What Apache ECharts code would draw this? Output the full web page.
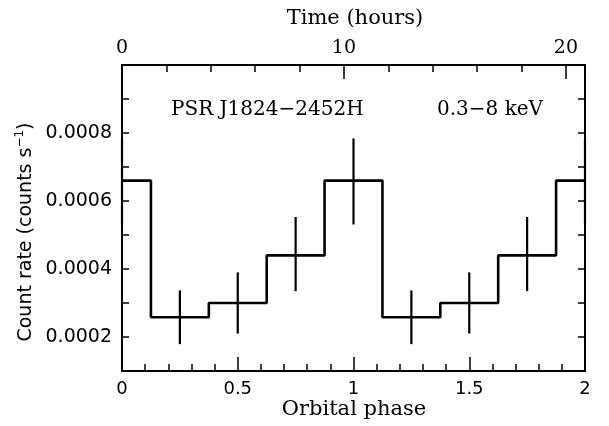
<!DOCTYPE html>
<html><head><meta charset="utf-8">
<script src="https://cdn.jsdelivr.net/npm/echarts@6/dist/echarts.min.js"></script>
<style>html,body{margin:0;padding:0;background:#fff}#c{width:609px;height:426px}</style>
</head><body><div id="c"></div>
<script>
const phases = [0, 0.25, 0.5, 0.75, 1, 1.25, 1.5, 1.75, 2];
const rates = [0.00066, 0.000258, 0.0003, 0.00044, 0.00066, 0.000258, 0.0003, 0.00044, 0.00066];
const errLow = [0.000531, 0.000179, 0.00021, 0.000335, 0.000531, 0.000179, 0.00021, 0.000335, 0.000531];
const errHigh = [0.000784, 0.000337, 0.00039, 0.000553, 0.000784, 0.000337, 0.00039, 0.000553, 0.000784];
const phaseTicks = ['0', '0.5', '1', '1.5', '2'];
const hourTicks = ['0', '10', '20'];
const rateTicks = ['0.0002', '0.0004', '0.0006', '0.0008'];
const periodHours = 10.43;
const sourceLabel = 'PSR J1824\u22122452H';
const bandLabel = '0.3\u22128 keV';

const serif = 'DejaVu Serif';
const sans = 'DejaVu Sans';
const chart = echarts.init(document.getElementById('c'), null, {renderer: 'canvas'});

const frameLine = {show: true, onZero: false, lineStyle: {color: '#000', width: 2}};
const tickStyle = {color: '#000', width: 1.5};

chart.setOption({
  animation: false,
  backgroundColor: '#fff',
  grid: {left: 122, right: 24, top: 65, bottom: 55, containLabel: false},
  xAxis: [
    {
      type: 'value', position: 'bottom', min: 0, max: 2, interval: 0.5,
      axisLine: frameLine,
      axisTick: {show: true, inside: true, length: 14, lineStyle: tickStyle},
      minorTick: {show: true, splitNumber: 5, length: 7, lineStyle: tickStyle},
      splitLine: {show: false}, minorSplitLine: {show: false},
      axisLabel: {color: '#000', fontFamily: sans, fontSize: 18, margin: 9,
        formatter: v => phaseTicks[Math.round(v / 0.5)]}
    },
    {
      type: 'value', position: 'top', min: 0, max: 2 * periodHours, interval: 10,
      axisLine: frameLine,
      axisTick: {show: true, inside: true, length: 14, lineStyle: tickStyle},
      splitLine: {show: false},
      axisLabel: {color: '#000', fontFamily: serif, fontSize: 19, margin: 7, showMaxLabel: false,
        formatter: v => { const k = Math.round(v / 10); return (Math.abs(v - k * 10) < 1e-6 && hourTicks[k]) ? hourTicks[k] : ''; }}
    },
    {
      type: 'value', position: 'top', min: 0, max: 2 * periodHours, interval: 2,
      axisLine: {show: false, onZero: false},
      axisTick: {show: true, inside: true, length: 7, lineStyle: tickStyle},
      splitLine: {show: false},
      axisLabel: {show: false}
    }
  ],
  yAxis: [
    {
      type: 'value', position: 'left', min: 0.0001, max: 0.001, interval: 0.0001,
      axisLine: frameLine,
      axisTick: {show: true, inside: true, length: 7, lineStyle: tickStyle},
      splitLine: {show: false},
      axisLabel: {color: '#000', fontFamily: sans, fontSize: 19, margin: 10,
        showMinLabel: false, showMaxLabel: false,
        formatter: v => { const k = Math.round(v * 1e4); return (k % 2 === 0 && rateTicks[k / 2 - 1]) ? rateTicks[k / 2 - 1] : ''; }}
    },
    {
      type: 'value', position: 'right', min: 0.0001, max: 0.001, interval: 0.0001,
      axisLine: frameLine,
      axisTick: {show: true, inside: true, length: 7, lineStyle: tickStyle},
      splitLine: {show: false},
      axisLabel: {show: false}
    }
  ],
  series: [
    {
      type: 'line', xAxisIndex: 0, yAxisIndex: 0, step: 'middle',
      data: phases.map((p, i) => [p, rates[i]]),
      showSymbol: false, symbol: 'none',
      lineStyle: {color: '#000', width: 2.6}, clip: true
    },
    {
      type: 'custom', xAxisIndex: 0, yAxisIndex: 0,
      data: phases.map((p, i) => [p, errLow[i], errHigh[i]]),
      renderItem: (params, api) => {
        const a = api.coord([api.value(0), api.value(1)]);
        const b = api.coord([api.value(0), api.value(2)]);
        return {type: 'line', shape: {x1: a[0], y1: a[1], x2: b[0], y2: b[1]},
          style: {stroke: '#000', lineWidth: 2.2}};
      }
    }
  ],
  graphic: [
    {type: 'text', x: 355, y: 19, style: {text: 'Time (hours)', font: '21px "DejaVu Serif"', fill: '#000', textAlign: 'center', textVerticalAlign: 'middle'}},
    {type: 'text', x: 354, y: 410, style: {text: 'Orbital phase', font: '21px "DejaVu Serif"', fill: '#000', textAlign: 'center', textVerticalAlign: 'middle'}},
    {type: 'text', x: 171, y: 110, style: {text: sourceLabel, font: '20px "DejaVu Serif"', fill: '#000', textAlign: 'left', textVerticalAlign: 'middle'}},
    {type: 'text', x: 437, y: 110, style: {text: bandLabel, font: '20px "DejaVu Serif"', fill: '#000', textAlign: 'left', textVerticalAlign: 'middle'}},
    {type: 'text', x: 26, y: 232, rotation: Math.PI / 2,
      style: {text: 'Count rate (counts s{sup|\u22121})', fontFamily: sans, fontSize: 19, fill: '#000',
        textAlign: 'center', textVerticalAlign: 'middle',
        rich: {sup: {fontFamily: sans, fontSize: 12, verticalAlign: 'top', lineHeight: 24, fill: '#000'}}}}
  ]
});
</script></body></html>
